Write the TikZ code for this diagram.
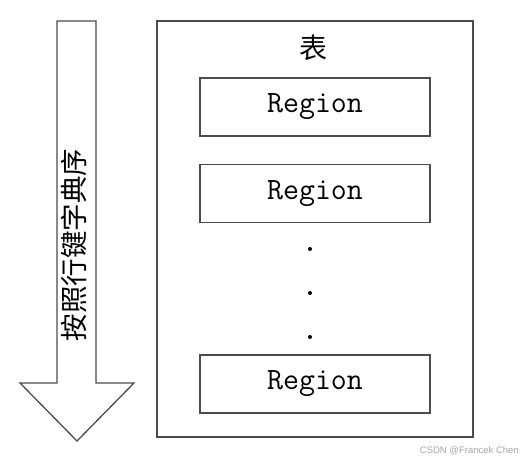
\documentclass[tikz,border=0pt]{standalone}
\usepackage{fontspec}
\newfontfamily\cjk{Noto Sans CJK SC}
\newfontfamily\wmfont{Liberation Sans}
\begin{document}
\begin{tikzpicture}[x=1pt,y=-1pt,
  frame/.style={draw=black!70, line width=1.3pt},
  regionbox/.style={frame, minimum width=230pt, minimum height=58pt, inner sep=0pt,
     font=\ttfamily\fontsize{31}{36}\selectfont},
  dotmark/.style={circle, fill=black, inner sep=0pt, minimum size=4pt}]
\useasboundingbox (0,0) rectangle (520,463);
% outer table frame
\node[frame, minimum width=316pt, minimum height=416pt, inner sep=0pt] (table) at (315,229) {};
\node[font=\cjk\fontsize{28}{32}\selectfont] (title) at (313,48) {表};
\node[regionbox] (r1) at (315,107) {Region};
\node[regionbox] (r2) at (315,193.5) {Region};
\node[regionbox] (r3) at (315,384) {Region};
\node[dotmark] (d1) at (310,249) {};
\node[dotmark] (d2) at (310,293) {};
\node[dotmark] (d3) at (310,337) {};
% arrow
\draw[frame, line join=miter, fill=white]
  (57,21) -- (96,21) -- (96,383) -- (134,383) -- (77,441) -- (20,383) -- (57,383) -- cycle;
\node[rotate=90, font=\cjk\fontsize{27.5}{30}\selectfont] (order) at (74,245) {按照行键字典序};
% watermark
\node[anchor=east, inner sep=0pt, text=black!35, font=\wmfont\fontsize{9.5}{11}\selectfont] (wm) at (519,451) {CSDN @Francek Chen};
\end{tikzpicture}
\end{document}
